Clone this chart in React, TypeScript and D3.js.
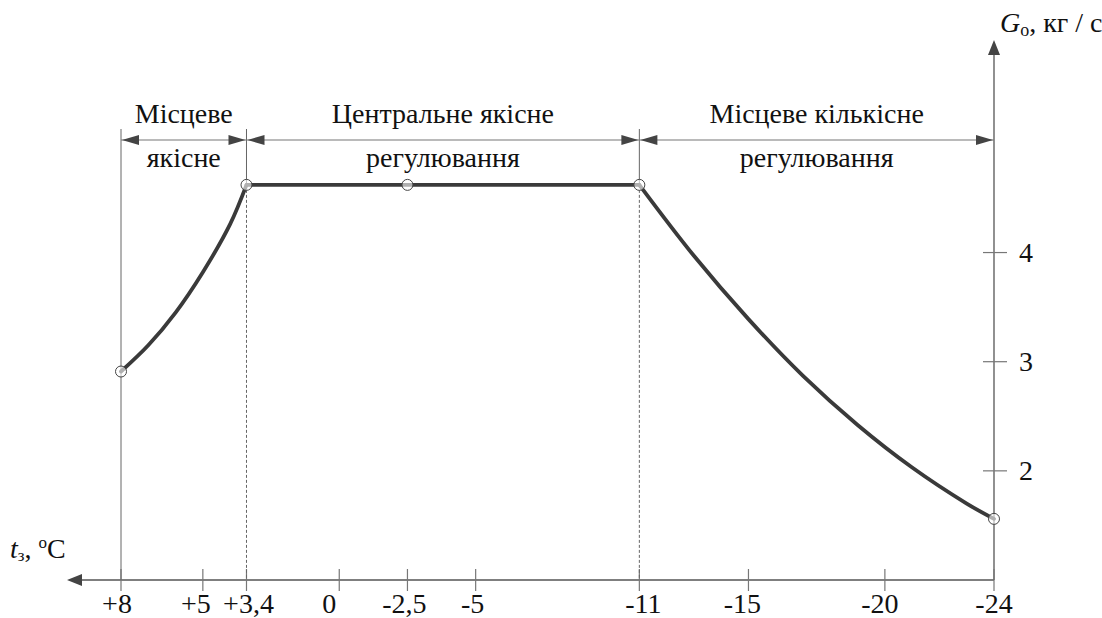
import React from "react";
import * as d3 from "d3";

// ---- data ----
const xTickValues = [8, 5, 3.4, 0, -2.5, -5, -11, -15, -20, -24];
const xTickLabels = ["+8", "+5", "+3,4", "0", "-2,5", "-5", "-11", "-15", "-20", "-24"];
const yTickValues = [2, 3, 4];
const yTickLabels = ["2", "3", "4"];

const zoneBounds = [8, 3.4, -11, -24];
const zoneTop = ["Місцеве", "Центральне якісне", "Місцеве кількісне"];
const zoneBottom = ["якісне", "регулювання", "регулювання"];

const seg1T = [8, 7, 6, 5, 4, 3.4];
const seg1G = [2.91, 3.15, 3.45, 3.82, 4.26, 4.62];
const flatT = [3.4, -11];
const flatG = [4.62, 4.62];
const seg3T = [-11, -13, -15, -17, -19, -21, -23, -24];
const seg3G = [4.62, 3.97, 3.39, 2.87, 2.42, 2.03, 1.7, 1.56];
const markerT = [8, 3.4, -2.5, -11, -24];
const markerG = [2.91, 4.62, 4.62, 4.62, 1.56];

// layout-only nudges for x tick label placement (px)
const LABEL_NUDGE = [-4, -7, 2, -10, -3, -3, 4, -6, -5, 0];

const txt: React.CSSProperties = { fontFamily: '"Liberation Serif"' };
const FS = 28;

export default function App() {
  const W = 1102, H = 618;
  const x = d3.scaleLinear().domain([8, -24]).range([121, 994]);
  const y = d3.scaleLinear().domain([1, 5]).range([580, 143.4]);
  const axisY = y(1);
  const axisX = x(-24);
  const dimY = 140;
  const boundTop = 129;

  const line = d3
    .line<[number, number]>()
    .x((d) => x(d[0]))
    .y((d) => y(d[1]))
    .curve(d3.curveCatmullRom.alpha(0.5));
  const lin = d3
    .line<[number, number]>()
    .x((d) => x(d[0]))
    .y((d) => y(d[1]));

  const zip = (a: number[], b: number[]) => a.map((v, i) => [v, b[i]] as [number, number]);

  const arrowHead = (tipX: number, tipY: number, dir: "left" | "right" | "up", len: number, hw: number) => {
    let pts: [number, number][];
    if (dir === "left") pts = [[tipX, tipY], [tipX + len, tipY - hw], [tipX + len, tipY + hw]];
    else if (dir === "right") pts = [[tipX, tipY], [tipX - len, tipY - hw], [tipX - len, tipY + hw]];
    else pts = [[tipX, tipY], [tipX - hw, tipY + len], [tipX + hw, tipY + len]];
    return <polygon points={pts.map((p) => p.join(",")).join(" ")} fill="#444" />;
  };

  const gVal = (t: number) => {
    const i = markerT.indexOf(t);
    return i >= 0 ? markerG[i] : 0;
  };

  return (
    <svg width={W} height={H} style={{ position: "absolute", left: 0, top: 0, background: "#fff" }}>
      {/* x axis */}
      <line x1={78} y1={axisY} x2={axisX} y2={axisY} stroke="#555" strokeWidth={1.3} />
      {arrowHead(67, axisY, "left", 15, 6)}
      {/* y axis */}
      <line x1={axisX} y1={axisY} x2={axisX} y2={52} stroke="#555" strokeWidth={1.3} />
      {arrowHead(axisX, 40, "up", 15, 6)}

      {/* x ticks */}
      {xTickValues.map((t, i) => (
        <g key={"xt" + i}>
          <line x1={x(t)} x2={x(t)} y1={axisY - 11} y2={axisY + 11} stroke="#777" strokeWidth={1.2} />
          <text x={x(t) + LABEL_NUDGE[i]} y={613} fontSize={FS} textAnchor="middle" fill="#111" style={txt}>
            {xTickLabels[i]}
          </text>
        </g>
      ))}
      {/* y ticks */}
      {yTickValues.map((v, i) => (
        <g key={"yt" + i}>
          <line x1={axisX - 11} x2={axisX + 13} y1={y(v)} y2={y(v)} stroke="#777" strokeWidth={1.2} />
          <text x={1019} y={y(v) + 9.5} fontSize={FS} fill="#111" style={txt}>
            {yTickLabels[i]}
          </text>
        </g>
      ))}

      {/* zone boundaries */}
      {zoneBounds.slice(0, 3).map((t, i) => {
        const xp = x(t);
        if (i === 0) {
          return <line key={"zb" + i} x1={xp} x2={xp} y1={boundTop} y2={axisY} stroke="#666" strokeWidth={1} />;
        }
        const g = gVal(t);
        return (
          <g key={"zb" + i}>
            <line x1={xp} x2={xp} y1={boundTop} y2={y(g)} stroke="#666" strokeWidth={1} />
            <line x1={xp} x2={xp} y1={y(g)} y2={axisY} stroke="#666" strokeWidth={1} strokeDasharray="3,2" />
          </g>
        );
      })}

      {/* dimension arrows */}
      {zoneTop.map((label, i) => {
        const x0 = x(zoneBounds[i]);
        const x1 = x(zoneBounds[i + 1]);
        const cx = (x0 + x1) / 2;
        return (
          <g key={"zone" + i}>
            <line x1={x0} x2={x1} y1={dimY} y2={dimY} stroke="#777" strokeWidth={1.2} />
            {arrowHead(x0 + 1, dimY, "left", 17, 5)}
            {arrowHead(x1 - 1, dimY, "right", 17, 5)}
            <text x={cx} y={123} fontSize={FS} textAnchor="middle" fill="#111" style={txt}>
              {label}
            </text>
            <text x={cx} y={167} fontSize={FS} textAnchor="middle" fill="#111" style={txt}>
              {zoneBottom[i]}
            </text>
          </g>
        );
      })}

      {/* data line */}
      <g fill="none" stroke="#3a3a3a" strokeWidth={3.8} strokeLinejoin="round" strokeLinecap="round">
        <path d={line(zip(seg1T, seg1G)) as string} />
        <path d={lin(zip(flatT, flatG)) as string} />
        <path d={line(zip(seg3T, seg3G)) as string} />
      </g>
      {markerT.map((t, i) => (
        <circle key={"m" + i} cx={x(t)} cy={y(markerG[i])} r={5.5} fill="#fff" fillOpacity={0.6} stroke="#444" strokeWidth={1} />
      ))}

      {/* axis titles */}
      <text x={1000} y={32} fontSize={FS} fill="#111" style={txt}>
        <tspan fontStyle="italic">G</tspan>
        <tspan fontSize={18} dy={4}>о</tspan>
        <tspan dy={-4}>, кг / с</tspan>
      </text>
      <text x={10} y={558} fontSize={FS} fill="#111" style={txt}>
        <tspan fontStyle="italic">t</tspan>
        <tspan fontSize={17} dy={3}>з</tspan>
        <tspan dy={-3}>, </tspan>
        <tspan fontSize={17} dy={-10}>o</tspan>
        <tspan dy={10}>C</tspan>
      </text>
    </svg>
  );
}
